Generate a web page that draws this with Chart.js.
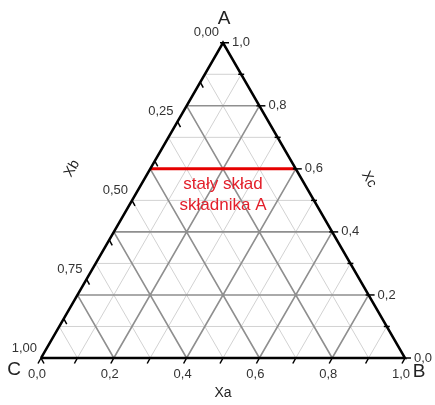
<!DOCTYPE html>
<html>
<head>
<meta charset="utf-8">
<script src="https://cdn.jsdelivr.net/npm/chart.js@4.4.0/dist/chart.umd.min.js"></script>
<style>
  body { margin: 0; background: #fff; }
  #wrap { width: 435px; height: 405px; }
</style>
</head>
<body>
<div id="wrap"><canvas id="tern" width="435" height="405"></canvas></div>
<script>
// ternary axes: A at the top, B bottom right, C bottom left
const gridSteps = [0.1, 0.2, 0.3, 0.4, 0.5, 0.6, 0.7, 0.8, 0.9];
const bottomTicks = [0, 0.2, 0.4, 0.6, 0.8, 1.0];
const bottomLabels = ['0,0', '0,2', '0,4', '0,6', '0,8', '1,0'];
const rightTicks = [0, 0.2, 0.4, 0.6, 0.8, 1.0];
const rightLabels = ['0,0', '0,2', '0,4', '0,6', '0,8', '1,0'];
const leftTicks = [0, 0.25, 0.5, 0.75, 1.0];
const leftLabels = ['0,00', '0,25', '0,50', '0,75', '1,00'];
const fixedA = 0.6;
const noteLines = ['stały skład', 'składnika A'];

const H = Math.sqrt(3) / 2;
// a = share of A, b = share of B (c is the rest)
function pt(a, b) { return { x: b + a * 0.5, y: a * H }; }
const gap = { x: null, y: null };

function gridSet(even) {
  const d = [];
  gridSteps.forEach((v, i) => {
    if ((i % 2 === 1) !== even) return;
    d.push(pt(v, 0), pt(v, 1 - v), gap);          // const A
    d.push(pt(0, v), pt(1 - v, v), gap);          // const B
    d.push(pt(0, 1 - v), pt(1 - v, 0), gap);      // const C
  });
  return d;
}

const line = (data, color, width, order) => ({
  data, borderColor: color, borderWidth: width, showLine: true, order,
  pointRadius: 0, fill: false, spanGaps: false
});

function px(chart, p) {
  return { x: chart.scales.x.getPixelForValue(p.x), y: chart.scales.y.getPixelForValue(p.y) };
}

const decor = {
  id: 'decor',
  afterDatasetsDraw(chart) {
    const ctx = chart.ctx;
    const font = 'Arial, "Liberation Sans", sans-serif';
    ctx.save();
    ctx.strokeStyle = '#000';
    ctx.lineWidth = 1.5;
    // ticks
    for (let i = 0; i <= 10; i++) {
      const v = i / 10;
      let p = px(chart, pt(0, v));
      ctx.beginPath(); ctx.moveTo(p.x, p.y); ctx.lineTo(p.x - 3, p.y + 5.5); ctx.stroke();
      p = px(chart, pt(v, 1 - v));
      const len = i % 2 === 0 ? 6 : 3;
      ctx.beginPath(); ctx.moveTo(p.x - 3, p.y); ctx.lineTo(p.x + len, p.y); ctx.stroke();
    }
    for (let i = 0; i <= 8; i++) {
      const v = i / 8;
      const p = px(chart, pt(1 - v, 0));
      ctx.beginPath(); ctx.moveTo(p.x, p.y); ctx.lineTo(p.x + 3, p.y + 5.5); ctx.stroke();
    }
    // tick labels
    ctx.fillStyle = '#333';
    ctx.font = '13px ' + font;
    ctx.textBaseline = 'middle';
    ctx.textAlign = 'center';
    bottomTicks.forEach((v, i) => {
      const p = px(chart, pt(0, v));
      ctx.fillText(bottomLabels[i], p.x - 4, p.y + 16);
    });
    ctx.textAlign = 'left';
    rightTicks.forEach((v, i) => {
      const p = px(chart, pt(v, 1 - v));
      ctx.fillText(rightLabels[i], p.x + 9, p.y);
    });
    ctx.textAlign = 'right';
    leftTicks.forEach((v, i) => {
      const p = px(chart, pt(1 - v, 0));
      ctx.fillText(leftLabels[i], p.x - 4, p.y - 10);
    });
    // corner names
    ctx.fillStyle = '#222';
    ctx.font = '19px ' + font;
    ctx.textAlign = 'center';
    let p = px(chart, pt(1, 0));
    ctx.fillText('A', p.x + 1, p.y - 24);
    p = px(chart, pt(0, 1));
    ctx.fillText('B', p.x + 14, p.y + 14);
    p = px(chart, pt(0, 0));
    ctx.fillText('C', p.x - 27, p.y + 12);
    // axis titles
    ctx.font = '14px ' + font;
    p = px(chart, pt(0, 0.5));
    ctx.fillText('Xa', p.x, p.y + 35);
    p = px(chart, pt(0.5, 0));
    ctx.save(); ctx.translate(p.x - 60, p.y - 32); ctx.rotate(-Math.PI / 3);
    ctx.fillText('Xb', 0, 0); ctx.restore();
    p = px(chart, pt(0.5, 0.5));
    ctx.save(); ctx.translate(p.x + 55, p.y - 21); ctx.rotate(Math.PI / 3);
    ctx.fillText('Xc', 0, 0); ctx.restore();
    // note under the red line
    ctx.fillStyle = '#e3202b';
    ctx.font = '17px ' + font;
    p = px(chart, pt(fixedA, (1 - fixedA) / 2));
    ctx.fillText(noteLines[0], p.x, p.y + 15);
    ctx.fillText(noteLines[1], p.x, p.y + 36);
    ctx.restore();
  }
};

new Chart(document.getElementById('tern'), {
  type: 'scatter',
  data: {
    datasets: [
      line(gridSet(false), '#d2d2d2', 1, 4),
      line(gridSet(true), '#8f8f8f', 1.6, 3),
      line([pt(fixedA, 0), pt(fixedA, 1 - fixedA)], '#e60000', 3, 2),
      line([pt(0, 0), pt(0, 1), pt(1, 0), pt(0, 0)], '#000', 2.5, 1)
    ]
  },
  options: {
    responsive: false,
    animation: false,
    layout: { padding: 0 },
    plugins: { legend: { display: false }, tooltip: { enabled: false } },
    scales: {
      x: { type: 'linear', display: false, min: -41 / 364, max: -41 / 364 + 435 / 364 },
      y: { type: 'linear', display: false, min: -(405 - 358) / 364, max: 358 / 364 }
    }
  },
  plugins: [decor]
});
</script>
</body>
</html>
